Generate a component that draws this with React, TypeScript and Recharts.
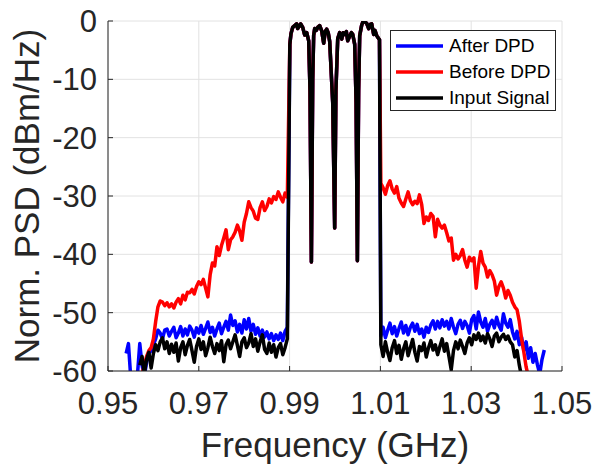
import React from 'react';
import { LineChart, Line, XAxis, YAxis, CartesianGrid, Legend } from 'recharts';

const FONT = '"Liberation Sans", Arial, Helvetica, sans-serif';
const AXIS = '#262626';

const xTicks = [0.95, 0.97, 0.99, 1.01, 1.03, 1.05];
const yTicks = [-60, -50, -40, -30, -20, -10, 0];

// PSD bins are 0.5 MHz apart on both skirts
const BIN = 0.0005;

// in-band part, the three traces sit on top of each other here
const bandFreq = [
  0.99005, 0.9903, 0.99068, 0.99112, 0.99156, 0.99178, 0.9921, 0.99244, 0.99289, 0.99333,
  0.99377, 0.99421, 0.9945, 0.9948, 0.99509, 0.9953, 0.99553, 0.9959, 0.99619, 0.99663,
  0.99707, 0.99751, 0.99785, 0.99817, 0.9985, 0.99883, 0.9995, 0.99993, 1.0002, 1.0006,
  1.00103, 1.00148, 1.0018, 1.00214, 1.0025, 1.0028, 1.00324, 1.0036, 1.0039, 1.00434,
  1.00465, 1.00493, 1.0052, 1.00544, 1.00588, 1.00632, 1.00665, 1.00698, 1.00742, 1.00775,
  1.00808, 1.00852, 1.0088, 1.00918, 1.0096, 1.0098,
];
const bandPsd = [
  -4, -2.2, -1.1, -0.8, -0.5, -1.3, -0.9, -0.5, -1.1, -2.4,
  -2.0, -3.4, -12, -41.3, -10, -2.5, -1.3, -1.6, -1.1, -0.8,
  -1.7, -3.8, -1.8, -1.4, -2.0, -3.5, -14, -35.5, -12, -3.0,
  -2.0, -3.1, -2.0, -2.3, -1.8, -3.4, -2.6, -2.0, -2.3, -4,
  -14, -41.1, -12, -2.5, -0.7, 0.2, -0.2, -0.4, -1.3, -0.6,
  -0.5, -2.3, -1.6, -2.5, -3, -3.2,
];

// lower skirts (start frequency + values)
const afterLeftStart = 0.954;
const afterLeft = [
  -57, -55.3, -61, -62.5, -61, -60.5, -55.3, -59, -61, -58.5,
  -57, -56.5, -55.5, -54.5, -53, -53.5, -54.5, -53, -52.8, -54,
  -53.2, -52.5, -54.3, -53.5, -52.4, -54, -52.8, -53.8, -52.3, -53,
  -54.2, -52.6, -53.5, -52.2, -53.7, -52.7, -51.6, -53.4, -52.5, -54,
  -52.8, -51.8, -53.6, -52.5, -51.5, -53, -50.4, -52.2, -51.4, -53.3,
  -52, -53.5, -51.2, -52.8, -51, -53.2, -52, -53.7, -52.6, -54,
  -53, -54.2, -53.3, -54.5, -53.6, -54.8, -53.8, -54.6, -53.5, -54.8,
  -53.2, -52.5,
];
const beforeLeftStart = 0.9575;
const beforeLeft = [
  -60.5, -59, -57.5, -56.5, -56, -54.5, -51.5, -49, -48, -48.2,
  -48.8, -48.3, -49, -48.5, -49.2, -48.2, -47.6, -48.5, -47, -47.8,
  -46.5, -46.6, -46, -46.8, -45.5, -44.7, -45.2, -44.3, -45.8, -47.3,
  -43.5, -41.5, -42, -38.7, -40.2, -38.5, -37.2, -35.8, -39.2, -37.5,
  -37, -36.2, -35, -36, -37.6, -34.5, -33, -31, -32, -32.6,
  -33.8, -34, -32, -31, -32.5, -31.8, -30.5, -31.2, -30.1, -30.6,
  -29.3, -30.2, -31, -29.5, -30.2,
];
const inputLeftStart = 0.957;
const inputLeft = [
  -59, -57.5, -60.5, -58, -56.8, -59.5, -57, -55.5, -56.5, -55,
  -54.3, -56.2, -55, -57, -55.4, -56.8, -55.2, -58.3, -56, -55,
  -57.2, -55.6, -54.6, -56.5, -58.5, -55.8, -54.5, -56.3, -55, -57.4,
  -56, -54.2, -55.8, -57, -55.3, -56.5, -54.8, -58.4, -55.5, -54.7,
  -56.2, -55, -53.8, -55.6, -57.5, -55, -54.3, -56, -55.2, -53.6,
  -55.8, -54.5, -56.6, -55, -53.8, -56.3, -57, -55.2, -56.8, -55.5,
  -57.6, -56, -55.3, -57.2, -56, -54.5,
];

// upper skirts, all starting right after the band edge
const rightStart = 1.0101;
const afterRight = [
  -54, -52.5, -54.3, -53, -51.8, -53.6, -52.4, -54, -52.7, -51.6,
  -53.5, -52.2, -53.8, -52.5, -51.8, -53.2, -52, -53.6, -52.8, -54.2,
  -52.5, -53.4, -52.1, -51.4, -52.8, -51.5, -52.6, -51.2, -52.3, -51.5,
  -52.8, -51, -52.5, -53.6, -52, -51.3, -52.7, -51.5, -52.2, -53.5,
  -51.2, -50.5, -52.8, -49.9, -51.6, -52.5, -51, -53.2, -52, -51.3,
  -52.6, -50.8, -52.2, -53, -50.2, -51.8, -52.5, -51.2, -53.3, -54.5,
  -53.2, -55.5, -54.2, -56.5, -55, -57.8, -56, -58.5, -57, -59,
  -60.5, -58, -56.4,
];
const beforeRight = [
  -27.8, -28.6, -29.7, -28.2, -27.4, -28.8, -29.5, -28.4, -30.4, -31.2,
  -31.8, -30.5, -29.3, -30.8, -31.5, -30.9, -31.3, -29.8, -31.5, -34.7,
  -33.6, -34.2, -33, -33.5, -37, -34, -35, -35.5, -35, -36.3,
  -37.7, -37.2, -41, -40, -40.8, -40.2, -39.2, -41, -42.2, -40.5,
  -41.1, -40.6, -45.8, -42, -39.5, -41.5, -42.2, -43.9, -42.8, -43.5,
  -44.6, -47, -45.5, -44.7, -45.8, -47.5, -46.2, -47, -48.2, -49,
  -49.5, -51.5, -54.5, -56.8, -59.3, -61,
];
const inputRight = [
  -55.5, -57.5, -55, -56.8, -58.2, -56, -54.8, -57, -55.6, -58,
  -56.2, -55, -57.4, -56, -54.6, -56.8, -58.3, -55.8, -56.5, -55.2,
  -57.6, -56, -54.8, -56.4, -55.5, -57.2, -55.8, -54.5, -56.6, -55.3,
  -57.5, -59.8, -56.5, -55, -56.2, -54.7, -55.8, -57, -55.2, -54.3,
  -55.5, -53.8, -54.6, -53.5, -54.8, -54, -55.2, -53.6, -54.5, -55.8,
  -54, -53.5, -55, -54.2, -53.7, -54.6, -54, -55, -55.5, -57.6,
  -56.5, -59, -61,
];

const skirt = (start: number, vals: number[]) =>
  vals.map((psd, i) => ({ f: +(start + i * BIN).toFixed(5), psd }));
const band = bandFreq.map((f, i) => ({ f, psd: bandPsd[i] }));

const afterData = [...skirt(afterLeftStart, afterLeft), ...band, ...skirt(rightStart, afterRight)];
const beforeData = [...skirt(beforeLeftStart, beforeLeft), ...band, ...skirt(rightStart, beforeRight)];
const inputData = [...skirt(inputLeftStart, inputLeft), ...band, ...skirt(rightStart, inputRight)];

const W = 593;
const H = 464;
const PLOT_TOP = 21;
const PLOT_BOTTOM = 371;
const PLOT_LEFT = 108;
const PLOT_RIGHT = 562;
const LINE_W = 3.5;

const YLabel = () => {
  const cx = 26;
  const cy = (PLOT_TOP + PLOT_BOTTOM) / 2;
  return (
    <text x={cx} y={cy} dy="0.36em" transform={`rotate(-90 ${cx} ${cy})`} textAnchor="middle"
      fill={AXIS} fontSize={35} fontFamily={FONT}>
      Norm. PSD (dBm/Hz)
    </text>
  );
};

const XLabel = () => (
  <text x={(PLOT_LEFT + PLOT_RIGHT) / 2} y={457} textAnchor="middle" fill={AXIS} fontSize={35} fontFamily={FONT}>
    Frequency (GHz)
  </text>
);

const renderLegend = ({ payload }: any) => (
  <div style={{
    width: 166, height: 81, boxSizing: 'border-box', border: `1px solid ${AXIS}`, background: '#fff',
    fontFamily: FONT, fontSize: 19, color: '#000', paddingTop: 2,
  }}>
    {(payload || []).map((p: any) => (
      <div key={p.value} style={{ display: 'flex', alignItems: 'center', height: 26 }}>
        <svg width={58} height={26} style={{ flex: 'none' }}>
          <line x1={5} x2={52} y1={13} y2={13} stroke={p.color} strokeWidth={LINE_W} />
        </svg>
        <span style={{ whiteSpace: 'nowrap' }}>{p.value}</span>
      </div>
    ))}
  </div>
);

export default function App() {
  const tickStyle = { fill: AXIS, fontSize: 31, fontFamily: FONT };
  return (
    <div style={{ position: 'absolute', left: 0, top: 0, width: W, height: H, background: '#fff' }}>
      <LineChart width={W} height={H}
        margin={{ top: PLOT_TOP, right: W - PLOT_RIGHT, bottom: 0, left: 0 }}>
        <CartesianGrid stroke="#e2e2e2" strokeWidth={1} />
        <XAxis dataKey="f" type="number" domain={[0.95, 1.05]} ticks={xTicks} allowDataOverflow
          interval={0} height={H - PLOT_BOTTOM} tickSize={-5} tickMargin={26}
          tickFormatter={(v: number) => v.toFixed(2)} tick={tickStyle}
          stroke={AXIS} axisLine={{ stroke: AXIS }} tickLine={{ stroke: AXIS }}
          label={<XLabel />} />
        <XAxis xAxisId="top" orientation="top" type="number" domain={[0.95, 1.05]} ticks={xTicks}
          allowDataOverflow interval={0} height={0} tickSize={-5} tick={false}
          axisLine={{ stroke: AXIS }} tickLine={{ stroke: AXIS }} />
        <YAxis type="number" domain={[-60, 0]} ticks={yTicks} allowDataOverflow interval={0}
          width={PLOT_LEFT} tickSize={-5} tickMargin={16} tick={tickStyle}
          axisLine={{ stroke: AXIS }} tickLine={{ stroke: AXIS }} label={<YLabel />} />
        <YAxis yAxisId="right" orientation="right" type="number" domain={[-60, 0]} ticks={yTicks}
          allowDataOverflow interval={0} width={0} tickSize={-5} tick={false}
          axisLine={{ stroke: AXIS }} tickLine={{ stroke: AXIS }} />
        <Legend layout="vertical" align="center" verticalAlign="middle" content={renderLegend}
          wrapperStyle={{ left: 390, top: 30, width: 166, height: 81 }} />
        <Line data={afterData} dataKey="psd" name="After DPD" type="linear" dot={false}
          stroke="#0000ff" strokeWidth={LINE_W} strokeLinejoin="round" isAnimationActive={false} />
        <Line data={beforeData} dataKey="psd" name="Before DPD" type="linear" dot={false}
          stroke="#ff0000" strokeWidth={LINE_W} strokeLinejoin="round" isAnimationActive={false} />
        <Line data={inputData} dataKey="psd" name="Input Signal" type="linear" dot={false}
          stroke="#000000" strokeWidth={LINE_W} strokeLinejoin="round" isAnimationActive={false} />
      </LineChart>
    </div>
  );
}
